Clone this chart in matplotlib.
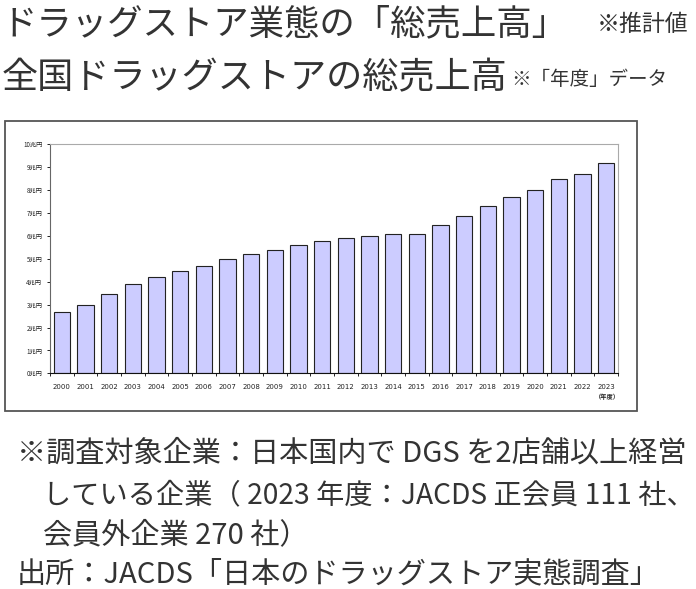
import matplotlib
matplotlib.use("Agg")
import matplotlib.pyplot as plt
from matplotlib.patches import Rectangle
import numpy as np

# 全国ドラッグストアの総売上高（兆円）
years = [str(y) for y in range(2000, 2024)]
sales = [2.67, 2.97, 3.48, 3.89, 4.19, 4.45, 4.67, 4.98, 5.20, 5.40, 5.59, 5.77,
         5.90, 5.98, 6.08, 6.08, 6.46, 6.88, 7.29, 7.69, 7.99, 8.47, 8.69, 9.18]
ytick_vals = list(range(0, 11))
ytick_labels = [f"{v}兆円" for v in ytick_vals]

title1 = "ドラッグストア業態の「総売上高」"
title1_note = "※推計値"
title2 = "全国ドラッグストアの総売上高"
title2_note = "※「年度」データ"
notes = ["※調査対象企業：日本国内で DGS を2店舗以上経営",
         "している企業（ 2023 年度：JACDS 正会員 111 社、",
         "会員外企業 270 社）",
         "出所：JACDS「日本のドラッグストア実態調査」"]

W, H = 696, 589
CJK = ["Noto Sans CJK JP", "DejaVu Sans"]
plt.rcParams['font.family'] = CJK

fig = plt.figure(figsize=(W / 100, H / 100), dpi=100)
fig.patch.set_facecolor("white")


def px(x, y):
    return x / W, 1 - y / H


# titles
fig.text(*px(2, 24), title1, fontsize=25.5, color="#333333", va="center", ha="left")
fig.text(*px(597, 24), title1_note, fontsize=16.5, color="#333333", va="center", ha="left")
fig.text(*px(2, 78), title2, fontsize=26, color="#333333", va="center", ha="left")
fig.text(*px(511, 80), title2_note, fontsize=14, color="#333333", va="center", ha="left")

# chart frame
fig.patches.append(Rectangle(px(5, 411), 632 / W, 290 / H, transform=fig.transFigure,
                             fill=False, edgecolor="#555555", linewidth=1.3))

# plot area
l, b = px(50, 373.3)
ax = fig.add_axes([l, b, 568 / W, 229 / H])
x = np.arange(len(years))
ax.bar(x, sales, width=0.70, color="#ccccff", edgecolor="#222222", linewidth=0.8, zorder=2)
ax.set_xlim(-0.5, len(years) - 0.5)
ax.set_ylim(0, 10)

ax.set_yticks(ytick_vals)
ax.set_yticklabels(ytick_labels, fontsize=4.5, color="#222222")
ax.tick_params(axis="y", length=2.5, width=0.6, pad=3)

ax.set_xticks(x)
ax.set_xticklabels(years, fontsize=5, color="#222222", family="DejaVu Sans")
ax.tick_params(axis="x", which="major", length=0, pad=8)
ax.set_xticks(np.arange(-0.5, len(years)), minor=True)
ax.tick_params(axis="x", which="minor", length=2.5, width=0.6)

for s in ["top", "right"]:
    ax.spines[s].set_color("#aaaaaa")
    ax.spines[s].set_linewidth(0.8)
ax.spines["left"].set_color("#666666")
ax.spines["bottom"].set_color("#111111")
ax.spines["left"].set_linewidth(0.8)
ax.spines["bottom"].set_linewidth(0.8)

fig.text(*px(607, 396), "（年度）", fontsize=4.5, color="#222222", ha="center", va="center",
         fontweight="bold")

# footnotes
fig.text(*px(17, 454), notes[0], fontsize=21, color="#333333", va="center", ha="left")
fig.text(*px(43, 495), notes[1], fontsize=20.3, color="#333333", va="center", ha="left")
fig.text(*px(43, 535), notes[2], fontsize=21, color="#333333", va="center", ha="left")
fig.text(*px(17, 574), notes[3], fontsize=21, color="#333333", va="center", ha="left")

fig.savefig("out.png", dpi=100)
